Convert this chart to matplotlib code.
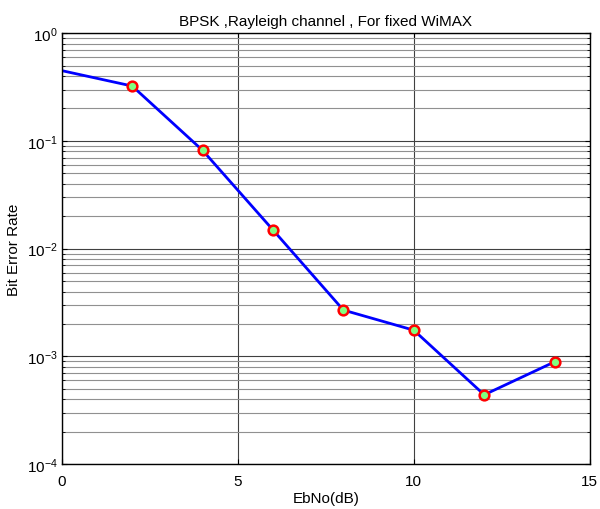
import matplotlib
matplotlib.use('Agg')
import matplotlib.pyplot as plt
import numpy as np

plt.rcParams['font.family'] = ['Liberation Sans', 'DejaVu Sans']
plt.rcParams['mathtext.fontset'] = 'custom'
plt.rcParams['mathtext.rm'] = 'Liberation Sans'
plt.rcParams['mathtext.it'] = 'Liberation Sans'

ebno = [0, 2, 4, 6, 8, 10, 12, 14]
ber = [0.449, 0.323, 0.0817, 0.0149, 0.00269, 0.00175, 0.00044, 0.00089]

figure = plt.figure(figsize=(6, 5.1), dpi=100)
axes = figure.add_axes([0.103, 0.088, 0.88, 0.845])

axes.semilogy(ebno, ber, color='#0000ff', linewidth=2,
              marker='o', markevery=slice(1, None), markersize=7,
              markerfacecolor='#80ff80', markeredgecolor='#ff0000',
              markeredgewidth=1.8)

axes.set_xlim(0, 15)
axes.set_ylim(1e-4, 1)
axes.set_xticks([0, 5, 10, 15])
axes.grid(True, which='major', color='#404040', linewidth=0.8)
axes.grid(True, which='minor', axis='y', color='#909090', linewidth=0.8)
axes.set_axisbelow(True)
axes.tick_params(which='both', direction='in', top=True, right=True)
axes.tick_params(axis='x', labelsize=11, pad=7)
axes.tick_params(axis='y', labelsize=11, pad=3)
for spine in axes.spines.values():
    spine.set_linewidth(1.0)

axes.set_title('BPSK ,Rayleigh channel , For fixed WiMAX', fontsize=11, pad=6)
axes.set_xlabel('EbNo(dB)', fontsize=11, labelpad=2)
axes.set_ylabel('Bit Error Rate', fontsize=11)
axes.yaxis.set_label_coords(-0.078, 0.5)

figure.savefig('out.png')
